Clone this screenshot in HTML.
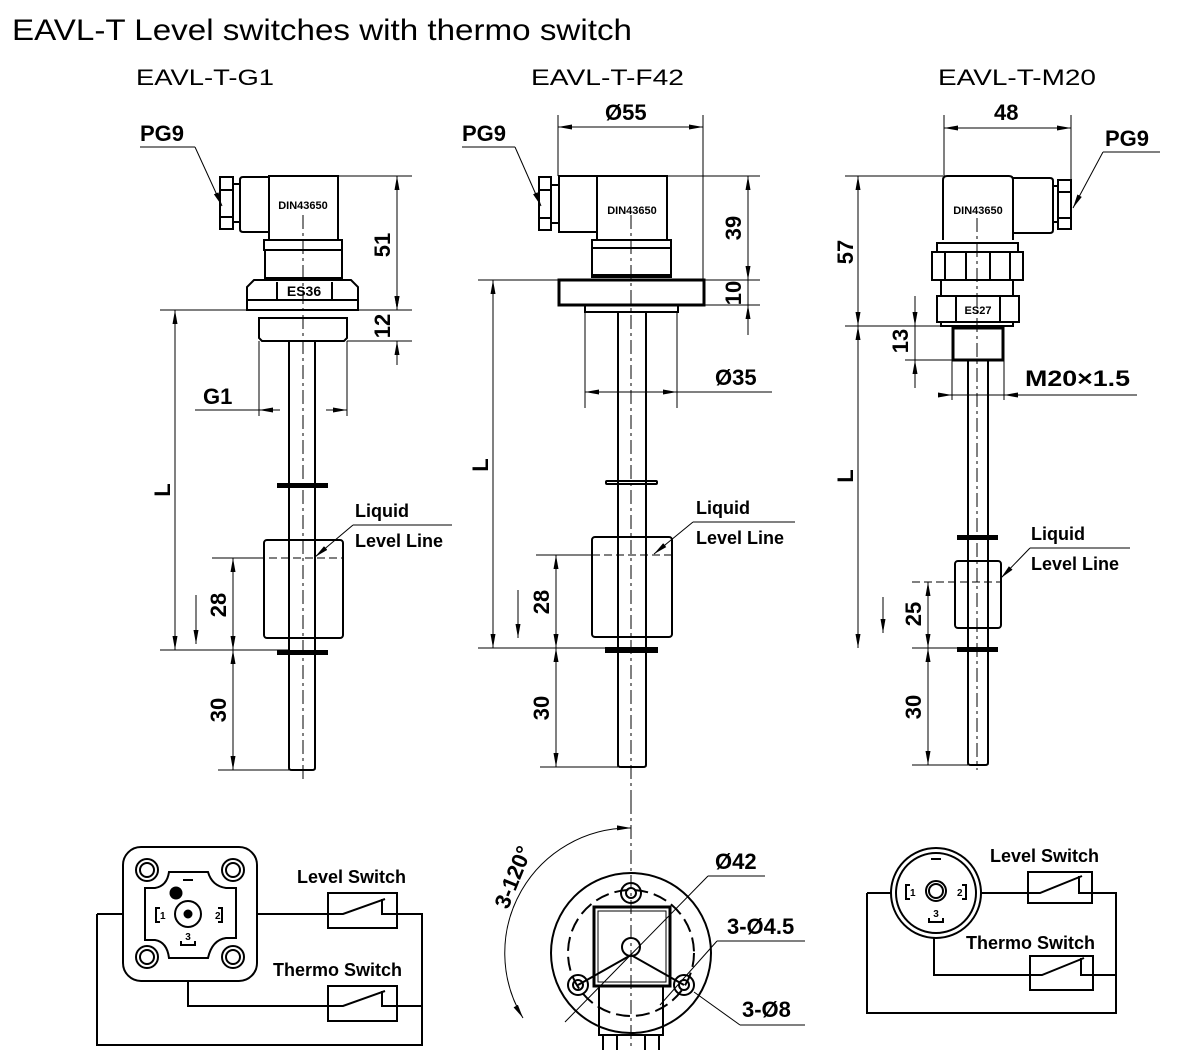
<!DOCTYPE html>
<html><head><meta charset="utf-8"><style>
html,body{margin:0;padding:0;background:#fff;}
svg{display:block;}
text{font-family:"Liberation Sans",Arial,sans-serif;fill:#000;}
.b{font-weight:bold;}
</style></head><body>
<svg width="1200" height="1050" viewBox="0 0 1200 1050" xmlns="http://www.w3.org/2000/svg">
<defs>
<marker id="a" viewBox="0 0 14 6" refX="14" refY="3" markerWidth="14" markerHeight="6" markerUnits="userSpaceOnUse" orient="auto-start-reverse">
<path d="M0,0.5 L14,3 L0,5.5 Z" fill="#000"/></marker>
</defs>
<g fill="none" stroke="#000" stroke-width="1">
<!-- ===== LEFT G1 ===== -->
<g stroke-width="2">
<rect x="220" y="177" width="13" height="52"/><line x1="220" y1="190" x2="233" y2="190"/><line x1="220" y1="217" x2="233" y2="217"/>
<path d="M233,184 H240 M233,222 H240"/>
<path d="M269,177 H243 Q240,177 240,180 V229 Q240,232 243,232 H269"/>
<rect x="269" y="176" width="69" height="64"/>
<rect x="264" y="240" width="78" height="10"/>
<rect x="265" y="250" width="77" height="28"/>
<path d="M254,280 H351 L358,287 V310 H247 V287 Z"/><line x1="247" y1="300" x2="358" y2="300"/>
<path d="M277,282 V300 M332,282 V300"/>
<path d="M259,318 H347 V338 L344,341 H262 L259,338 Z"/>
<path d="M289,341 V768 Q289,770 292,770 H312 Q315,770 315,768 V341"/>
<rect x="278" y="484" width="49" height="3" fill="#000"/>
<rect x="278" y="651" width="49" height="3" fill="#000"/>
<rect x="264" y="540" width="79" height="98" rx="3"/>
</g>
<line x1="303" y1="215" x2="303" y2="780" stroke-dasharray="14,4,3,4"/>
<line x1="233" y1="558" x2="343" y2="558" stroke-dasharray="8,4"/>
<!-- dims left -->
<path d="M338,176 H412 M160,310 H412 M347,341 H412 M160,650 H290 M218,770 H290 M212,558 H264"/>
<line x1="397" y1="176" x2="397" y2="310" marker-start="url(#a)" marker-end="url(#a)"/>
<line x1="397" y1="296" x2="397" y2="310" marker-end="url(#a)"/>
<line x1="397" y1="355" x2="397" y2="341" marker-end="url(#a)"/>
<line x1="397" y1="341" x2="397" y2="365"/>
<line x1="175" y1="310" x2="175" y2="650" marker-start="url(#a)" marker-end="url(#a)"/>
<line x1="233" y1="558" x2="233" y2="650" marker-start="url(#a)" marker-end="url(#a)"/>
<line x1="233" y1="650" x2="233" y2="770" marker-start="url(#a)" marker-end="url(#a)"/>
<line x1="196" y1="595" x2="196" y2="644" marker-end="url(#a)"/>
<path d="M259,341 V416 M347,341 V416"/>
<line x1="195" y1="410" x2="259" y2="410"/>
<line x1="280" y1="410" x2="259" y2="410" marker-end="url(#a)"/>
<line x1="326" y1="410" x2="347" y2="410" marker-end="url(#a)"/>
<line x1="140" y1="147" x2="195" y2="147"/><line x1="195" y1="147" x2="222" y2="206" marker-end="url(#a)"/>
<line x1="353" y1="525" x2="452" y2="525"/><line x1="353" y1="525" x2="315" y2="557" marker-end="url(#a)"/>

<!-- ===== MIDDLE F42 ===== -->
<g stroke-width="2">
<rect x="539" y="177" width="12" height="53"/><line x1="539" y1="190" x2="551" y2="190"/><line x1="539" y1="218" x2="551" y2="218"/>
<path d="M551,185 H558 M551,223 H558"/>
<rect x="559" y="176" width="38" height="56"/>
<rect x="597" y="176" width="70" height="64"/>
<rect x="592" y="240" width="79" height="37"/><line x1="592" y1="248" x2="671" y2="248"/><line x1="592" y1="275" x2="671" y2="275"/>
<rect x="559" y="280" width="145" height="25" stroke-width="3"/>
<rect x="585" y="305" width="93" height="7"/>
<path d="M618,312 V765 Q618,767 621,767 H643 Q646,767 646,765 V312"/>
<rect x="606" y="481" width="51" height="3" rx="1"/>
<rect x="606" y="648" width="51" height="4" fill="#000"/>
<rect x="592" y="537" width="80" height="100" rx="3"/>
</g>
<line x1="631" y1="215" x2="631" y2="800" stroke-dasharray="14,4,3,4"/>
<line x1="556" y1="555" x2="672" y2="555" stroke-dasharray="8,4"/>
<path d="M558,115 V176 M703,115 V280 M667,176 H760 M478,280 H760 M704,305 H760 M585,312 V408 M677,312 V408 M478,648 H606 M540,767 H618 M536,555 H592"/>
<line x1="558" y1="127" x2="703" y2="127" marker-start="url(#a)" marker-end="url(#a)"/>
<line x1="748" y1="176" x2="748" y2="280" marker-start="url(#a)" marker-end="url(#a)"/>
<line x1="748" y1="280" x2="748" y2="305"/>
<line x1="748" y1="325" x2="748" y2="305" marker-end="url(#a)"/>
<line x1="748" y1="305" x2="748" y2="335"/>
<line x1="585" y1="392" x2="772" y2="392"/>
<line x1="605" y1="392" x2="585" y2="392" marker-end="url(#a)"/>
<line x1="657" y1="392" x2="677" y2="392" marker-end="url(#a)"/>
<line x1="493" y1="280" x2="493" y2="648" marker-start="url(#a)" marker-end="url(#a)"/>
<line x1="556" y1="555" x2="556" y2="648" marker-start="url(#a)" marker-end="url(#a)"/>
<line x1="556" y1="648" x2="556" y2="767" marker-start="url(#a)" marker-end="url(#a)"/>
<line x1="518" y1="590" x2="518" y2="638" marker-end="url(#a)"/>
<line x1="462" y1="147" x2="515" y2="147"/><line x1="515" y1="147" x2="541" y2="206" marker-end="url(#a)"/>
<line x1="693" y1="522" x2="795" y2="522"/><line x1="693" y1="522" x2="654" y2="554" marker-end="url(#a)"/>

<!-- ===== RIGHT M20 ===== -->
<g stroke-width="2">
<rect x="1058" y="180" width="13" height="49"/><line x1="1058" y1="192" x2="1071" y2="192"/><line x1="1058" y1="218" x2="1071" y2="218"/>
<path d="M1053,186 H1058 M1053,222 H1058"/>
<path d="M1013,178 H1050 Q1053,178 1053,181 V230 Q1053,233 1050,233 H1013"/>
<path d="M943,240 V180 Q943,176 947,176 H1009 Q1013,176 1013,180 V240"/>
<rect x="937" y="243" width="81" height="9"/>
<rect x="932" y="252" width="91" height="28"/><path d="M945,252 V280 M966,252 V280 M990,252 V280 M1010,252 V280"/>
<rect x="941" y="280" width="72" height="16"/>
<rect x="937" y="296" width="82" height="26"/><path d="M956,296 V322 M1000,296 V322 M941,322 V326 H1013 V322"/>
<rect x="953" y="328" width="50" height="32" stroke-width="3"/>
<path d="M968,360 V763 Q968,765 971,765 H985 Q988,765 988,763 V360"/>
<rect x="958" y="536" width="39" height="3" fill="#000"/>
<rect x="958" y="648" width="39" height="3" fill="#000"/>
<rect x="955" y="561" width="46" height="67" rx="3"/>
</g>
<line x1="977" y1="218" x2="977" y2="770" stroke-dasharray="14,4,3,4"/>
<line x1="912" y1="582" x2="1001" y2="582" stroke-dasharray="8,4"/>
<path d="M944,115 V176 M1071,115 V180 M845,176 H943 M845,326 H941 M905,360 H953 M912,648 H958 M912,765 H968 M952,360 V400 M1004,360 V400"/>
<line x1="944" y1="128" x2="1071" y2="128" marker-start="url(#a)" marker-end="url(#a)"/>
<line x1="858" y1="176" x2="858" y2="326" marker-start="url(#a)" marker-end="url(#a)"/>
<line x1="858" y1="326" x2="858" y2="648" marker-start="url(#a)" marker-end="url(#a)"/>
<line x1="915" y1="296" x2="915" y2="326" marker-end="url(#a)"/>
<line x1="915" y1="388" x2="915" y2="360" marker-end="url(#a)"/>
<line x1="915" y1="326" x2="915" y2="360"/>
<line x1="945" y1="395" x2="1137" y2="395"/>
<line x1="938" y1="395" x2="952" y2="395" marker-end="url(#a)"/>
<line x1="1018" y1="395" x2="1004" y2="395" marker-end="url(#a)"/>
<line x1="928" y1="582" x2="928" y2="648" marker-start="url(#a)" marker-end="url(#a)"/>
<line x1="928" y1="648" x2="928" y2="765" marker-start="url(#a)" marker-end="url(#a)"/>
<line x1="883" y1="597" x2="883" y2="633" marker-end="url(#a)"/>
<line x1="1103" y1="152" x2="1160" y2="152"/><line x1="1103" y1="152" x2="1073" y2="208" marker-end="url(#a)"/>
<line x1="1030" y1="548" x2="1130" y2="548"/><line x1="1030" y1="548" x2="1001" y2="578" marker-end="url(#a)"/>

<!-- ===== BOTTOM LEFT wiring ===== -->
<g stroke-width="2">
<rect x="123" y="847" width="134" height="134" rx="18"/>
<circle cx="147" cy="870" r="11"/><circle cx="147" cy="870" r="7"/>
<circle cx="233" cy="870" r="11"/><circle cx="233" cy="870" r="7"/>
<circle cx="147" cy="957" r="11"/><circle cx="147" cy="957" r="7"/>
<circle cx="233" cy="957" r="11"/><circle cx="233" cy="957" r="7"/>
<path d="M169,872 H208 Q212,886 226,888 H236 V938 H226 Q212,940 208,958 H169 Q167,942 155,940 H145 V888 H155 Q167,886 169,872 Z"/>
<circle cx="188" cy="914" r="13"/>
<path d="M97,914 H123 M257,914 H328 M397,914 H422 V1045 H97 V914 M188,982 V1006 H328 M397,1006 H422"/>
<rect x="328" y="893" width="69" height="35"/>
<rect x="328" y="986" width="69" height="35"/>
<path d="M328,914 H343 L385,899 M382,899 V914 H397"/>
<path d="M328,1006 H343 L385,991 M382,991 V1006 H397"/>
</g>
<circle cx="188" cy="914" r="4" fill="#000"/>
<circle cx="176" cy="893" r="6" fill="#000"/>
<path d="M160,908 H156 V922 H160 M218,908 H222 V922 H218 M181,941 V945 H195 V941 M183,880 H193" stroke-width="2"/>

<!-- ===== BOTTOM MIDDLE flange top view ===== -->
<g stroke-width="2">
<circle cx="631" cy="953" r="80"/>
<circle cx="631" cy="893" r="10"/><circle cx="631" cy="893" r="5"/>
<circle cx="578" cy="985" r="10"/><circle cx="578" cy="985" r="5"/>
<circle cx="684" cy="985" r="10"/><circle cx="684" cy="985" r="5"/>
<rect x="594" y="907" width="76" height="79" stroke-width="3"/>
<rect x="598" y="911" width="68" height="71" stroke-width="1"/>
<path d="M599,986 V1035 H663 V986"/>
<path d="M603,1035 V1050 M617,1035 V1050 M645,1035 V1050 M659,1035 V1050"/>
<circle cx="631" cy="947" r="9"/>
</g>
<circle cx="631" cy="953" r="63" stroke-width="2" stroke-dasharray="14,6"/>
<line x1="631" y1="800" x2="631" y2="1050" stroke-dasharray="14,4,3,4"/>
<path d="M631,955 L578,985 M631,955 L684,985" stroke-width="2"/>
<path d="M631,828 A125,125 0 0 0 523,1018" marker-start="url(#a)" marker-end="url(#a)"/>
<line x1="708" y1="876" x2="765" y2="876"/><line x1="708" y1="876" x2="565" y2="1022"/>
<line x1="717" y1="941" x2="805" y2="941"/><line x1="717" y1="941" x2="660" y2="1005"/>
<line x1="740" y1="1025" x2="805" y2="1025"/><line x1="740" y1="1025" x2="694" y2="992"/>

<!-- ===== BOTTOM RIGHT wiring ===== -->
<g stroke-width="2">
<circle cx="936" cy="893" r="45"/><circle cx="936" cy="893" r="40"/>
<circle cx="936" cy="891" r="10"/><circle cx="936" cy="891" r="7"/>
<path d="M867,893 H891 M981,893 H1028 M1092,893 H1116 V1013 H867 V893 M934,938 V975 H1030 M1093,975 H1116"/>
<rect x="1028" y="872" width="64" height="31"/>
<rect x="1030" y="956" width="63" height="34"/>
<path d="M1028,893 H1040 L1082,876 M1079,876 V893 H1092"/>
<path d="M1030,975 H1042 L1084,958 M1081,958 V975 H1093"/>
<path d="M910,885 H906 V899 H910 M962,885 H966 V899 H962 M929,918 V922 H943 V918 M931,859 H941"/>
</g>
</g>

<!-- ===== TEXT ===== -->
<text x="12" y="40" font-size="30" textLength="620" lengthAdjust="spacingAndGlyphs">EAVL-T Level switches with thermo switch</text>
<text x="136" y="85" font-size="22" textLength="138" lengthAdjust="spacingAndGlyphs">EAVL-T-G1</text>
<text x="531" y="85" font-size="22" textLength="153" lengthAdjust="spacingAndGlyphs">EAVL-T-F42</text>
<text x="938" y="85" font-size="22" textLength="158" lengthAdjust="spacingAndGlyphs">EAVL-T-M20</text>

<g class="b" font-size="22" font-weight="bold">
<text x="140" y="141">PG9</text>
<text x="462" y="141">PG9</text>
<text x="1105" y="146">PG9</text>
<text x="605" y="120">Ø55</text>
<text x="994" y="120">48</text>
<text x="203" y="404">G1</text>
<text x="715" y="385">Ø35</text>
<text x="1025" y="386" textLength="105" lengthAdjust="spacingAndGlyphs">M20×1.5</text>
<text transform="translate(390,245) rotate(-90)" text-anchor="middle">51</text>
<text transform="translate(390,326) rotate(-90)" text-anchor="middle">12</text>
<text transform="translate(741,228) rotate(-90)" text-anchor="middle">39</text>
<text transform="translate(741,293) rotate(-90)" text-anchor="middle">10</text>
<text transform="translate(853,252) rotate(-90)" text-anchor="middle">57</text>
<text transform="translate(908,341) rotate(-90)" text-anchor="middle">13</text>
<text transform="translate(170,490) rotate(-90)" text-anchor="middle">L</text>
<text transform="translate(488,465) rotate(-90)" text-anchor="middle">L</text>
<text transform="translate(853,476) rotate(-90)" text-anchor="middle">L</text>
<text transform="translate(226,605) rotate(-90)" text-anchor="middle">28</text>
<text transform="translate(226,710) rotate(-90)" text-anchor="middle">30</text>
<text transform="translate(549,602) rotate(-90)" text-anchor="middle">28</text>
<text transform="translate(549,708) rotate(-90)" text-anchor="middle">30</text>
<text transform="translate(921,614) rotate(-90)" text-anchor="middle">25</text>
<text transform="translate(921,707) rotate(-90)" text-anchor="middle">30</text>
<text x="715" y="869">Ø42</text>
<text x="727" y="934">3-Ø4.5</text>
<text x="742" y="1017">3-Ø8</text>
<text transform="translate(520,880) rotate(-68)" text-anchor="middle">3-120°</text>
</g>
<g font-size="18" font-weight="bold">
<text x="355" y="517">Liquid</text><text x="355" y="547">Level Line</text>
<text x="696" y="514">Liquid</text><text x="696" y="544">Level Line</text>
<text x="1031" y="540">Liquid</text><text x="1031" y="570">Level Line</text>
<text x="297" y="883">Level Switch</text>
<text x="273" y="976">Thermo Switch</text>
<text x="990" y="862">Level Switch</text>
<text x="966" y="949">Thermo Switch</text>
</g>
<g font-size="11" font-weight="bold">
<text x="303" y="209" text-anchor="middle">DIN43650</text>
<text x="632" y="214" text-anchor="middle">DIN43650</text>
<text x="978" y="214" text-anchor="middle">DIN43650</text>
<text x="978" y="314" text-anchor="middle">ES27</text>
</g>
<text x="304" y="296" font-size="14" font-weight="bold" text-anchor="middle">ES36</text>
<g font-size="10" font-weight="bold">
<text x="160" y="919">1</text><text x="215" y="919">2</text><text x="188" y="940" text-anchor="middle">3</text>
<text x="910" y="896">1</text><text x="957" y="896">2</text><text x="936" y="917" text-anchor="middle">3</text>
</g>
</svg>
</body></html>
